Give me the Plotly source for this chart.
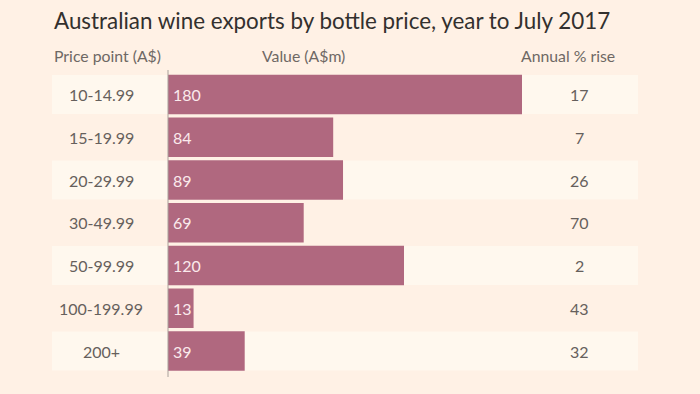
import plotly.graph_objects as go

price_points = ["10-14.99", "15-19.99", "20-29.99", "30-49.99", "50-99.99", "100-199.99", "200+"]
values = [180, 84, 89, 69, 120, 13, 39]
annual_rise = [17, 7, 26, 70, 2, 43, 32]

title = "Australian wine exports by bottle price, year to July 2017"
headers = ["Price point (A$)", "Value (A$m)", "Annual % rise"]

W, H = 700, 394
BG = "#FFF1E5"
BAND = "#FFF8EE"
BAR = "#B0687F"
FONT = "Lato"

def px(x):
    return x / W

def py(y):
    return 1 - y / H

x0_px, x1_px = 168, 638
y_top, y_bot = 70, 377
scale = (522 - 168) / 180.0
xmax = (x1_px - x0_px) / scale
pitch = 42.75
ytop_val = -(94.5 - y_top) / pitch
ybot_val = 6 + (y_bot - 351) / pitch

ypos = list(range(len(price_points)))

fig = go.Figure()
fig.add_trace(go.Bar(
    x=values, y=ypos, orientation="h",
    marker=dict(color=BAR, line=dict(width=0)),
    width=0.92, hoverinfo="skip",
))

shapes = []
for i in ypos:
    if i % 2 == 0:
        shapes.append(dict(type="rect", xref="paper", yref="y",
                           x0=px(52), x1=px(638), y0=i - 0.456, y1=i + 0.456,
                           fillcolor=BAND, line=dict(width=0), layer="below"))
shapes.append(dict(type="line", xref="paper", yref="paper",
                   x0=px(168), x1=px(168), y0=py(70), y1=py(377),
                   line=dict(color="#A8A19B", width=1), layer="above"))

ann = []
ann.append(dict(text=title, x=px(52), y=py(20), xref="paper", yref="paper",
                xanchor="left", yanchor="middle", showarrow=False,
                font=dict(family=FONT, size=22.4, color="#33302E")))
hx = [(52, "left"), (260, "left"), (617, "right")]
for (hxp, anc), t in zip(hx, headers):
    ann.append(dict(text=t, x=px(hxp), y=py(55), xref="paper", yref="paper",
                    xanchor=anc, yanchor="middle", showarrow=False,
                    font=dict(family=FONT, size=15.8, color="#6E6864")))
for i, (p, v, r) in enumerate(zip(price_points, values, annual_rise)):
    ann.append(dict(text=p, x=px(101), y=i, xref="paper", yref="y",
                    xanchor="center", yanchor="middle", showarrow=False,
                    font=dict(family=FONT, size=16, color="#66605C")))
    ann.append(dict(text=str(v), x=0, y=i, xref="x", yref="y", xshift=3,
                    xanchor="left", yanchor="middle", showarrow=False,
                    font=dict(family=FONT, size=16, color="#FBEAEC")))
    ann.append(dict(text=str(r), x=px(579), y=i, xref="paper", yref="y",
                    xanchor="center", yanchor="middle", showarrow=False,
                    font=dict(family=FONT, size=16, color="#66605C")))

fig.update_layout(
    width=W, height=H,
    margin=dict(l=0, r=0, t=0, b=0),
    paper_bgcolor=BG, plot_bgcolor="rgba(0,0,0,0)",
    showlegend=False,
    xaxis=dict(domain=[px(x0_px), px(x1_px)], range=[0, xmax],
               visible=False, fixedrange=True),
    yaxis=dict(domain=[py(y_bot), py(y_top)], range=[ybot_val, ytop_val],
               visible=False, fixedrange=True),
    shapes=shapes, annotations=ann,
)

fig.write_html(
    "out.html",
    config={"displayModeBar": False},
    post_script="document.body.style.margin='0';document.body.style.background='#FFF1E5';document.body.style.overflow='hidden';",
)
